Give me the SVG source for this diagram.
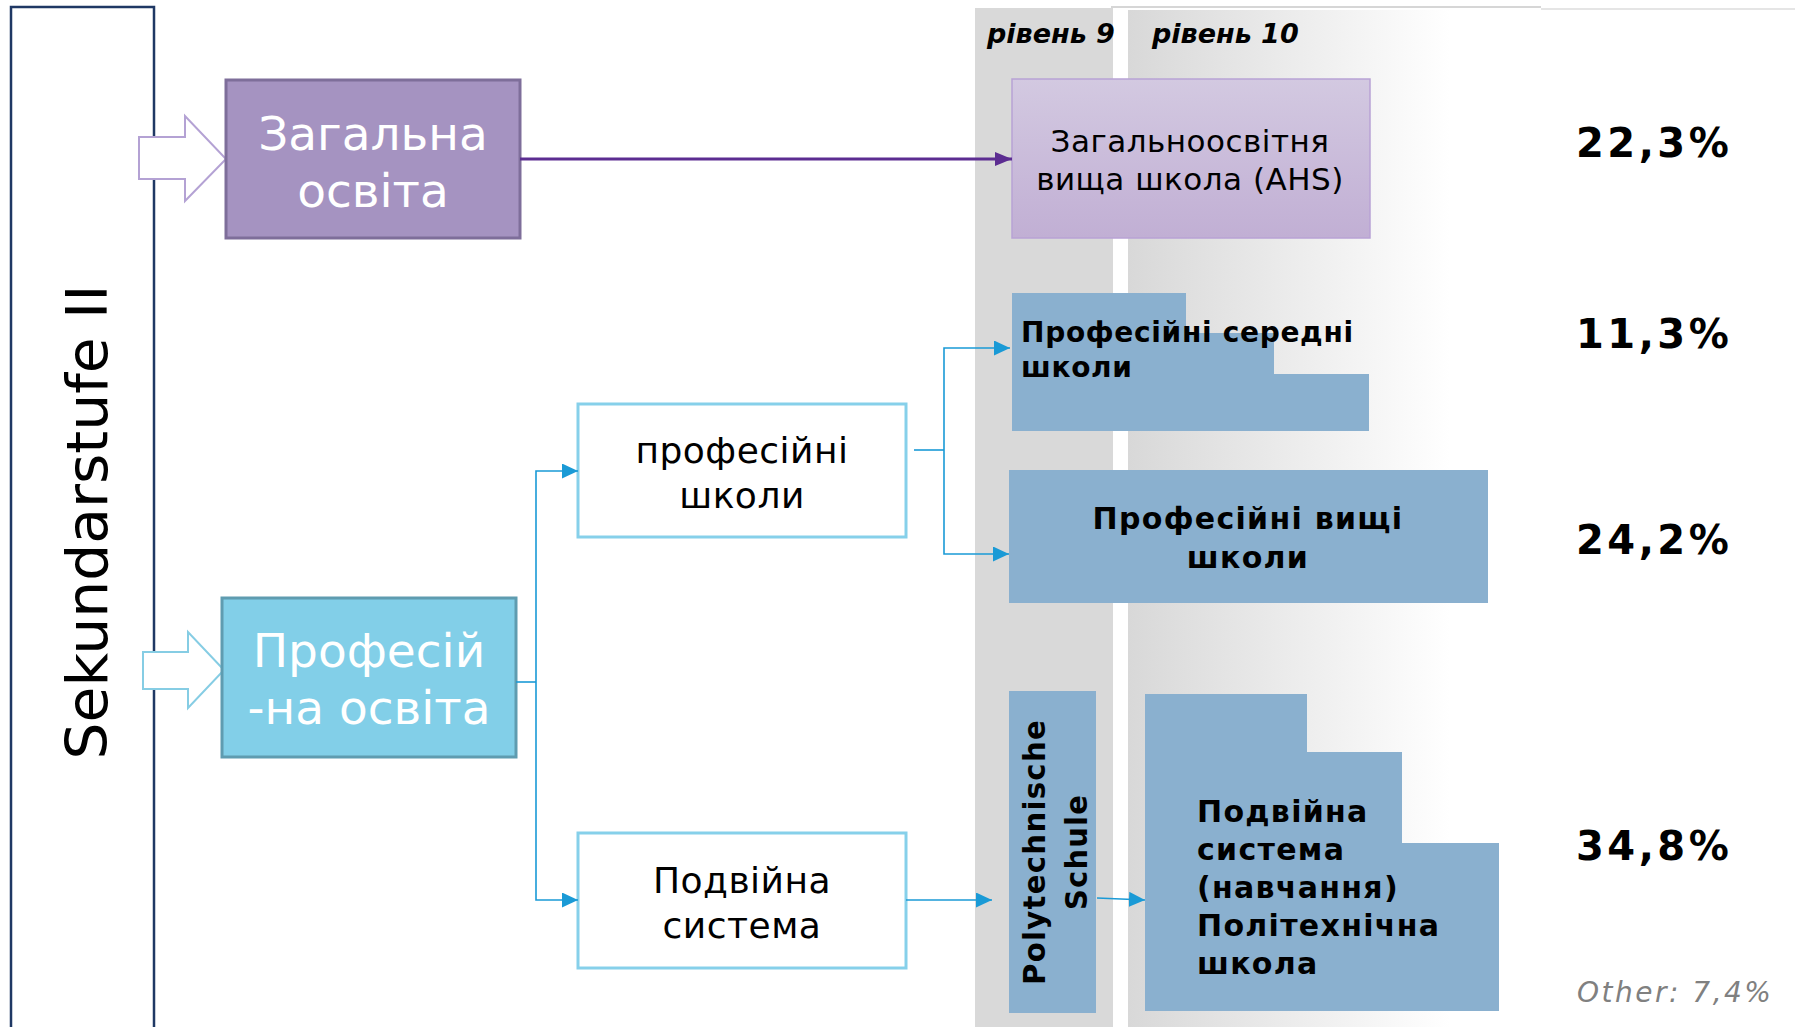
<svg xmlns="http://www.w3.org/2000/svg" width="1795" height="1027" viewBox="0 0 1795 1027">
<style>
.big{font-family:"DejaVu Sans",Verdana,sans-serif;fill:#fff;font-size:47px;text-anchor:middle}
.wb{font-family:"DejaVu Sans",Verdana,sans-serif;fill:#000;font-size:36px;letter-spacing:0.5px;text-anchor:middle}
.bb{font-family:"DejaVu Sans",Verdana,sans-serif;font-weight:bold;fill:#000;font-size:30px;letter-spacing:1.3px}
.bs{font-family:"DejaVu Sans",Verdana,sans-serif;font-weight:bold;fill:#000;font-size:28px;letter-spacing:0.7px}
.pct{font-family:"DejaVu Sans",Verdana,sans-serif;font-weight:bold;fill:#000;font-size:40px;letter-spacing:3.5px}
.lvl{font-family:"DejaVu Sans",Verdana,sans-serif;font-weight:bold;font-style:italic;fill:#000;font-size:27px}
.ahs{font-family:"DejaVu Sans",Verdana,sans-serif;fill:#000;font-size:31px;letter-spacing:0.5px;text-anchor:middle}
.blue{fill:#8ab0cf}
.wbox{fill:#fff;stroke:#86d0ea;stroke-width:3}
.conb{fill:none;stroke:#1a9ad6;stroke-width:1.6}
</style>
<defs>
<linearGradient id="band2" x1="0" y1="0" x2="1" y2="0">
<stop offset="0" stop-color="#d8d8d8"/>
<stop offset="0.78" stop-color="#ffffff"/>
</linearGradient>
<linearGradient id="ahs" x1="0" y1="0" x2="0" y2="1">
<stop offset="0" stop-color="#d3c9e1"/>
<stop offset="1" stop-color="#c1afd4"/>
</linearGradient>
<marker id="ab" markerUnits="userSpaceOnUse" markerWidth="16" markerHeight="15" refX="16" refY="7.5" orient="auto">
<path d="M0,0 L16,7.5 L0,15 z" fill="#1a9ad6"/>
</marker>
<marker id="ap" markerUnits="userSpaceOnUse" markerWidth="17" markerHeight="14" refX="17" refY="7" orient="auto">
<path d="M0,0 L17,7 L0,14 z" fill="#5c2d91"/>
</marker>
</defs>
<rect width="1795" height="1027" fill="#fff"/>

<g id="bands">
<rect x="975" y="8" width="138" height="1019" fill="#d9d9d9"/>
<rect x="1128" y="10" width="413" height="1017" fill="url(#band2)"/>
<line x1="1111" y1="7" x2="1541" y2="7" stroke="#c9c9c9" stroke-width="1.5"/>
<line x1="1541" y1="9" x2="1795" y2="9" stroke="#dcdcdc" stroke-width="1.5"/>
<text class="lvl" x="987" y="43">рівень 9</text>
<text class="lvl" x="1152" y="43">рівень 10</text>
</g>

<g id="sekundarstufe">
<rect x="11" y="7" width="143" height="1040" fill="none" stroke="#1f3864" stroke-width="2.5"/>
<text transform="translate(107,522) rotate(-90)" x="0" y="0" text-anchor="middle" font-family="'DejaVu Sans',Verdana,sans-serif" font-size="57" textLength="475" lengthAdjust="spacingAndGlyphs" fill="#000">Sekundarstufe II</text>
</g>

<g id="general">
<polygon points="139,137 185,137 185,116 226,159 185,201 185,179 139,179" fill="#fff" stroke="#b4a2d4" stroke-width="2"/>
<rect x="226" y="80" width="294" height="158" fill="#a593c1" stroke="#7e6e9a" stroke-width="3"/>
<text class="big" x="373" y="150">Загальна</text>
<text class="big" x="373" y="207">освіта</text>
</g>

<g id="vocational">
<polygon points="143,652 188,652 188,632 224,670 188,708 188,689 143,689" fill="#fff" stroke="#86cde4" stroke-width="2"/>
<rect x="222" y="598" width="294" height="159" fill="#82cfe8" stroke="#5f9cb0" stroke-width="3"/>
<text class="big" x="369" y="667">Професій</text>
<text class="big" x="369" y="724">-на освіта</text>
</g>

<g id="voc-schools">
<rect class="wbox" x="578" y="404" width="328" height="133"/>
<text class="wb" x="742" y="463">професійні</text>
<text class="wb" x="742" y="508">школи</text>
</g>

<g id="dual">
<rect class="wbox" x="578" y="833" width="328" height="135"/>
<text class="wb" x="742" y="893">Подвійна</text>
<text class="wb" x="742" y="938">система</text>
</g>

<g id="ahs-box">
<rect x="1012" y="79" width="358" height="159" fill="url(#ahs)" stroke="#b8a2d5" stroke-width="1.5"/>
<text class="ahs" x="1190" y="152">Загальноосвітня</text>
<text class="ahs" x="1190" y="190">вища школа (AHS)</text>
</g>

<g id="bms">
<polygon class="blue" points="1012,293 1186,293 1186,333 1274,333 1274,374 1369,374 1369,431 1012,431"/>
<text class="bs" x="1021" y="342">Професійні середні</text>
<text class="bs" x="1021" y="377">школи</text>
</g>

<g id="bhs">
<rect class="blue" x="1009" y="470" width="479" height="133"/>
<text class="bb" x="1248" y="529" text-anchor="middle">Професійні вищі</text>
<text class="bb" x="1248" y="568" text-anchor="middle">школи</text>
</g>

<g id="poly">
<rect class="blue" x="1009" y="691" width="87" height="322"/>
<text transform="translate(1045,852) rotate(-90)" class="bb" text-anchor="middle" font-size="30" letter-spacing="0" textLength="266" lengthAdjust="spacingAndGlyphs" x="0" y="0">Polytechnische</text>
<text transform="translate(1087,852) rotate(-90)" class="bb" text-anchor="middle" font-size="30" letter-spacing="0" textLength="116" lengthAdjust="spacingAndGlyphs" x="0" y="0">Schule</text>
</g>

<g id="dual-step">
<polygon class="blue" points="1145,694 1307,694 1307,752 1402,752 1402,843 1499,843 1499,1011 1145,1011"/>
<text class="bb" x="1197" y="822">Подвійна</text>
<text class="bb" x="1197" y="860">система</text>
<text class="bb" x="1197" y="898">(навчання)</text>
<text class="bb" x="1197" y="936">Політехнічна</text>
<text class="bb" x="1197" y="974">школа</text>
</g>

<g id="percentages">
<text class="pct" x="1576" y="157">22,3%</text>
<text class="pct" x="1576" y="348">11,3%</text>
<text class="pct" x="1576" y="554">24,2%</text>
<text class="pct" x="1576" y="860">34,8%</text>
<text x="1577" y="1002" font-family="'DejaVu Sans',Verdana,sans-serif" font-style="italic" font-size="28" letter-spacing="2.5" fill="#808080">Other: 7,4%</text>
</g>

<g id="connectors">
<path d="M520,159 H1012" fill="none" stroke="#5c2d91" stroke-width="3" marker-end="url(#ap)"/>
<path class="conb" d="M516,682 H536"/>
<path class="conb" d="M536,682 V471 H578" marker-end="url(#ab)"/>
<path class="conb" d="M536,682 V900 H578" marker-end="url(#ab)"/>
<path class="conb" d="M914,450 H944"/>
<path class="conb" d="M944,450 V348 H1010" marker-end="url(#ab)"/>
<path class="conb" d="M944,450 V554 H1009" marker-end="url(#ab)"/>
<path class="conb" d="M906,900 H992" marker-end="url(#ab)"/>
<path class="conb" d="M1097,898 L1145,900" marker-end="url(#ab)"/>
</g>
</svg>
